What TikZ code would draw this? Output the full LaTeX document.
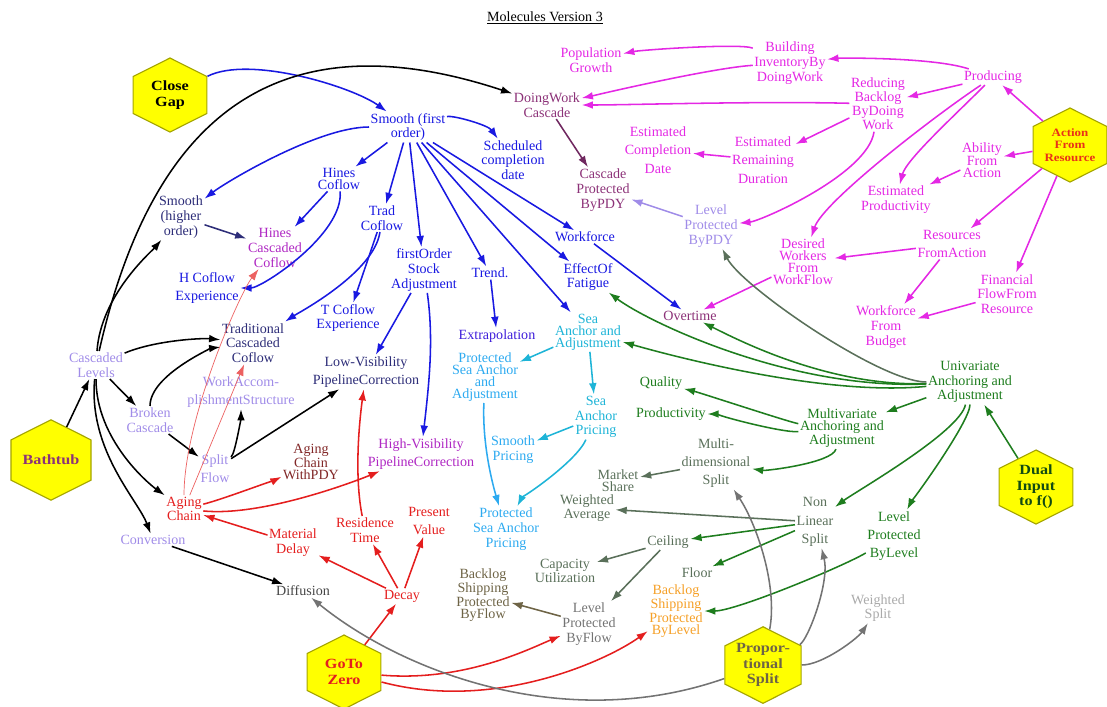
\documentclass[tikz,border=0pt]{standalone}
\usepackage{fontspec}
\setmainfont{Liberation Serif}
\usepackage{tikz}
\usetikzlibrary{shapes.geometric}
\usetikzlibrary{arrows.meta}
\tikzset{>={Latex[length=8pt,width=5.5pt]}}

\definecolor{cblue}{RGB}{25,25,225}
\definecolor{cnavy}{RGB}{45,45,120}
\definecolor{cmag}{RGB}{228,40,228}
\definecolor{cpurple}{RGB}{140,50,120}
\definecolor{clav}{RGB}{160,140,232}
\definecolor{chv}{RGB}{175,40,195}
\definecolor{cred}{RGB}{228,30,30}
\definecolor{cbrown}{RGB}{130,40,40}
\definecolor{ccyan}{RGB}{30,180,215}
\definecolor{clcyan}{RGB}{45,170,240}
\definecolor{cgreen}{RGB}{30,125,30}
\definecolor{cgg}{RGB}{90,112,90}
\definecolor{cgray}{RGB}{115,115,115}
\definecolor{cdgray}{RGB}{70,70,70}
\definecolor{clgray}{RGB}{170,170,170}
\definecolor{colive}{RGB}{110,100,70}
\definecolor{corange}{RGB}{245,160,40}
\definecolor{hexyellow}{RGB}{255,255,0}
\definecolor{hexborder}{RGB}{165,165,0}

\begin{document}
\begin{tikzpicture}[x=0.025cm,y=-0.025cm]
  \tikzstyle{lbl} = [align=center, inner sep=1pt, font=\fontsize{10}{10.5}\selectfont]
  \tikzstyle{tlbl} = [lbl, font=\fontsize{10}{8.5}\selectfont]
  \tikzstyle{wlbl} = [lbl, font=\fontsize{10}{13}\selectfont]
  \tikzstyle{hexa} = [regular polygon, regular polygon sides=6, shape border rotate=30, xscale=1.15,
                      minimum size=1.85cm, inner sep=0pt, fill=hexyellow, draw=hexborder, thick,
                      align=center, font=\bfseries\fontsize{10}{11}\selectfont]
  \tikzstyle{arr} = [->, line width=1.1pt]
  \tikzstyle{barr} = [arr, cblue]
  \tikzstyle{marr} = [arr, cmag]
  \tikzstyle{karr} = [arr, black]
  \tikzstyle{rarr} = [arr, cred]
  \tikzstyle{garr} = [arr, cgreen]
  \tikzstyle{ggarr} = [arr, cgg]
  \tikzstyle{carr} = [arr, ccyan]
  \tikzstyle{grayarr} = [arr, cgray]
  \useasboundingbox (0,0) rectangle (1107,706);

  \node[lbl] (title) at (545,18) {\underline{Molecules Version 3}};

  % hexagons
  \node[hexa, text=black] (cg) at (170,95) {Close\\Gap};
  \node[hexa, text=cpurple] (bath) at (51,460) {Bathtub};
  \node[hexa, text=cred!80!orange, font=\bfseries\fontsize{8}{9}\selectfont] (afr) at (1070,145) {Action\\From\\Resource};
  \node[hexa, text=cgreen!60!black] (dual) at (1036,487) {Dual\\Input\\to f()};
  \node[hexa, text=colive] (psplit) at (763,665) {Propor-\\tional\\Split};
  \node[hexa, text=cred] (gtz) at (344,672) {GoTo\\Zero};

  % smooth part
  \node[lbl, text=cblue] (sm1) at (408,127) {Smooth (first\\order)};
  \node[lbl, text=cblue] (sched) at (513,160) {Scheduled\\completion\\date};
  \node[lbl, text=cnavy] (smh) at (181,217) {Smooth\\(higher\\order)};
  \node[tlbl, text=cblue] (hines) at (339,179) {Hines\\Coflow};
  \node[lbl, text=chv] (hcc) at (275,248) {Hines\\Cascaded\\Coflow};
  \node[lbl, text=cblue] (trad) at (382,218) {Trad\\Coflow};
  \node[wlbl, text=cblue] (hcx) at (207,288) {H Coflow\\Experience};
  \node[lbl, text=cnavy] (tcc) at (253,343) {Traditional\\Cascaded\\Coflow};
  \node[lbl, text=cblue] (tcx) at (348,318) {T Coflow\\Experience};
  \node[wlbl, text=cnavy] (lvpc) at (366,372) {Low-Visibility\\PipelineCorrection};
  \node[lbl, text=cblue] (fosa) at (424,270) {firstOrder\\Stock\\Adjustment};
  \node[lbl, text=cblue] (trend) at (490,273) {Trend.};
  \node[lbl, text=cblue!75!chv] (extrap) at (497,336) {Extrapolation};
  \node[wlbl, text=chv] (hvpc) at (421,454) {High-Visibility\\PipelineCorrection};
  \node[lbl, text=cblue] (wf) at (585,237) {Workforce};
  \node[lbl, text=cblue] (fatigue) at (588,277) {EffectOf\\Fatigue};
  \node[lbl, text=cpurple] (overtime) at (690,316) {Overtime};

  % sea anchor
  \node[tlbl, text=ccyan] (seaaa) at (588,332) {Sea\\Anchor and\\Adjustment};
  \node[tlbl, text=clcyan] (psaa) at (485,377) {Protected\\Sea Anchor\\and\\Adjustment};
  \node[lbl, text=ccyan] (sap) at (596,417) {Sea\\Anchor\\Pricing};
  \node[lbl, text=clcyan] (smp) at (513,450) {Smooth\\Pricing};
  \node[lbl, text=clcyan] (psap) at (506,529) {Protected\\Sea Anchor\\Pricing};

  % doing work
  \node[lbl, text=cpurple] (dwc) at (547,105) {DoingWork\\Cascade};
  \node[lbl, text=cpurple] (cpp) at (603,190) {Cascade\\Protected\\ByPDY};
  \node[lbl, text=clav] (lpp) at (711,226) {Level\\Protected\\ByPDY};
  \node[lbl, text=cmag] (pop) at (591,60) {Population\\Growth};
  \node[wlbl, text=cmag] (ecd) at (658,150) {Estimated\\Completion\\Date};
  \node[lbl, text=cmag] (bidw) at (790,63) {Building\\InventoryBy\\DoingWork};
  \node[lbl, text=cmag] (prod) at (993,77) {Producing};
  \node[tlbl, text=cmag] (rbdw) at (878,104) {Reducing\\Backlog\\ByDoing\\Work};
  \node[wlbl, text=cmag] (erd) at (763,160) {Estimated\\Remaining\\Duration};
  \node[tlbl, text=cmag] (ability) at (982,160) {Ability\\From\\Action};
  \node[lbl, text=cmag] (estprod) at (896,200) {Estimated\\Productivity};
  \node[tlbl, text=cmag] (dwwf) at (803,262) {Desired\\Workers\\From\\WorkFlow};
  \node[wlbl, text=cmag] (resfa) at (952,244) {Resources\\FromAction};
  \node[lbl, text=cmag] (ffr) at (1007,294) {Financial\\FlowFrom\\Resource};
  \node[lbl, text=cmag] (wfb) at (886,327) {Workforce\\From\\Budget};

  % anchoring
  \node[lbl, text=cgreen] (univ) at (970,382) {Univariate\\Anchoring and\\Adjustment};
  \node[tlbl, text=cgreen] (multi) at (842,428) {Multivariate\\Anchoring and\\Adjustment};
  \node[lbl, text=cgreen] (quality) at (661,383) {Quality};
  \node[lbl, text=cgreen] (productivity) at (671,414) {Productivity};
  \node[wlbl, text=cgg] (mds) at (716,463) {Multi-\\dimensional\\Split};
  \node[tlbl, text=cgg] (mshare) at (618,481) {Market\\Share};
  \node[tlbl, text=cgg] (wavg) at (587,508) {Weighted\\Average};
  \node[wlbl, text=cgg] (nls) at (815,522) {Non\\Linear\\Split};
  \node[wlbl, text=cgreen] (lpl) at (894,536) {Level\\Protected\\ByLevel};
  \node[tlbl, text=clgray] (wsplit) at (878,608) {Weighted\\Split};
  \node[lbl, text=cgg] (ceiling) at (668,542) {Ceiling};
  \node[lbl, text=cgg] (floor) at (697,573) {Floor};
  \node[lbl, text=cgg] (caputil) at (565,571) {Capacity\\Utilization};
  \node[tlbl, text=colive] (bspf) at (483,595) {Backlog\\Shipping\\Protected\\ByFlow};
  \node[lbl, text=cgray] (lpf) at (589,624) {Level\\Protected\\ByFlow};
  \node[tlbl, text=corange] (bspl) at (676,611) {Backlog\\Shipping\\Protected\\ByLevel};

  % cascades and chains
  \node[lbl, text=clav] (cl) at (96,365) {Cascaded\\Levels};
  \node[lbl, text=clav] (bc) at (150,420) {Broken\\Cascade};
  \node[wlbl, text=clav] (was) at (241,392) {WorkAccom-\\plishmentStructure};
  \node[wlbl, text=clav] (sf) at (215,469) {Split\\Flow};
  \node[tlbl, text=cbrown] (acpdy) at (311,462) {Aging\\Chain\\WithPDY};
  \node[lbl, text=cred] (ac) at (184,509) {Aging\\Chain};
  \node[lbl, text=clav] (conv) at (153,540) {Conversion};
  \node[lbl, text=cred] (md) at (293,543) {Material\\Delay};
  \node[lbl, text=cred] (rt) at (365,530) {Residence\\Time};
  \node[wlbl, text=cred] (pv) at (429,521) {Present\\Value};
  \node[lbl, text=cred] (decay) at (402,596) {Decay};
  \node[lbl, text=cdgray] (diff) at (303,591) {Diffusion};

  % blue
  \draw[barr] (cg) .. controls +(80,-40) and +(-55,-40) .. (sm1);
  \draw[barr] (sm1) .. controls +(45,-12) and +(-25,-35) .. (sched);
  \draw[barr] (sm1) .. controls +(-90,0) and +(45,-35) .. (smh);
  \draw[barr] (sm1) -- (hines);
  \draw[barr] (sm1) -- (trad);
  \draw[barr] (sm1) -- (fosa);
  \draw[barr] (sm1) -- (trend);
  \draw[barr] (sm1) -- (seaaa);
  \draw[barr] (sm1) -- (fatigue);
  \draw[barr] (sm1) -- (wf);
  \draw[barr] (wf) -- (overtime);
  \draw[barr] (hines) -- (hcc);
  \draw[barr] (hines) .. controls +(5,55) and +(55,0) .. (hcx);
  \draw[barr] (trad) .. controls +(-8,55) and +(45,-30) .. (tcc);
  \draw[barr] (trad) -- (tcx);
  \draw[barr] (fosa) -- (lvpc);
  \draw[barr] (fosa) .. controls +(10,70) and +(8,-70) .. (hvpc);
  \draw[barr] (trend) -- (extrap);
  \draw[arr, cnavy] (smh) -- (hcc);

  % magenta
  \draw[marr] (bidw) .. controls +(-50,-20) and +(50,-10) .. (pop);
  \draw[marr] (bidw) .. controls +(-80,5) and +(40,-8) .. (dwc);
  \draw[marr] (rbdw) .. controls +(-120,-3) and +(80,0) .. (dwc);
  \draw[marr] (prod) .. controls +(-60,-20) and +(50,-5) .. (bidw);
  \draw[marr] (prod) -- (rbdw);
  \draw[marr] (rbdw) .. controls +(-10,70) and +(50,-5) .. (lpp);
  \draw[marr] (prod) .. controls +(-60,40) and +(20,-60) .. (dwwf);
  \draw[marr] (prod) .. controls +(-40,40) and +(10,-40) .. (estprod);
  \draw[marr] (rbdw) -- (erd);
  \draw[marr] (erd) -- (ecd);
  \draw[marr] (afr) -- (prod);
  \draw[marr] (afr) -- (ability);
  \draw[marr] (ability) -- (estprod);
  \draw[marr] (afr) -- (resfa);
  \draw[marr] (afr) -- (ffr);
  \draw[marr] (resfa) -- (dwwf);
  \draw[marr] (resfa) -- (wfb);
  \draw[marr] (ffr) -- (wfb);
  \draw[marr] (dwwf) -- (overtime);
  \draw[arr, cpurple!80!black] (dwc) -- (cpp);
  \draw[arr, clav] (lpp) -- (cpp);

  % black
  \draw[karr] (cl) .. controls +(54,-239) and +(-278,-92) .. (dwc);
  \draw[karr] (cl) .. controls +(5,-70) and +(-30,35) .. (smh);
  \draw[karr] (cl) .. controls +(60,-25) and +(-50,-5) .. (tcc);
  \draw[karr] (bc) .. controls +(0,-45) and +(-40,5) .. (tcc);
  \draw[karr] (cl) -- (bc);
  \draw[karr] (bath) -- (cl);
  \draw[karr] (bc) -- (sf);
  \draw[karr] (sf) .. controls +(20,-15) and +(0,25) .. (was);
  \draw[karr] (sf) -- (lvpc);
  \draw[karr] (cl) .. controls +(0,75) and +(-35,-25) .. (ac);
  \draw[karr] (cl) .. controls +(-8,85) and +(-15,-40) .. (conv);
  \draw[karr] (conv) -- (diff);

  % red
  \draw[rarr] (ac) .. controls +(40,-10) and +(-30,15) .. (acpdy);
  \draw[rarr] (ac) .. controls +(80,8) and +(-60,25) .. (hvpc);
  \draw[rarr] (md) -- (ac);
  \draw[rarr] (decay) -- (md);
  \draw[rarr] (decay) -- (rt);
  \draw[rarr] (decay) -- (pv);
  \draw[rarr] (rt) .. controls +(-10,-50) and +(-8,60) .. (lvpc);
  \draw[rarr] (gtz) -- (decay);
  \draw[rarr] (gtz) .. controls +(120,10) and +(-60,25) .. (lpf);
  \draw[rarr] (gtz) .. controls +(150,40) and +(-70,50) .. (bspl);
  \draw[->, cred!70, line width=0.5pt] (ac) .. controls +(0,-90) and +(-35,45) .. (hcc);
  \draw[->, cred!70, line width=0.5pt] (ac) -- (tcc);

  % green
  \draw[ggarr] (univ) .. controls +(-90,0) and +(30,60) .. (lpp);
  \draw[garr] (univ) .. controls +(-140,5) and +(50,25) .. (overtime);
  \draw[garr] (univ) .. controls +(-180,8) and +(60,45) .. (fatigue);
  \draw[garr] (univ) .. controls +(-150,15) and +(70,20) .. (seaaa);
  \draw[garr] (multi) .. controls +(-50,-5) and +(40,10) .. (quality);
  \draw[garr] (multi) .. controls +(-60,5) and +(40,0) .. (productivity);
  \draw[garr] (multi) .. controls +(-10,35) and +(50,8) .. (mds);
  \draw[garr] (univ) -- (multi);
  \draw[garr] (univ) .. controls +(-10,50) and +(40,-30) .. (nls);
  \draw[garr] (univ) .. controls +(0,40) and +(15,-30) .. (lpl);
  \draw[garr] (dual) -- (univ);
  \draw[ggarr] (nls) -- (wavg);
  \draw[garr] (nls) -- (ceiling);
  \draw[garr] (nls) -- (floor);
  \draw[garr] (lpl) .. controls +(-50,30) and +(60,0) .. (bspl);
  \draw[ggarr] (mds) -- (mshare);
  \draw[ggarr] (ceiling) -- (caputil);
  \draw[ggarr] (ceiling) -- (lpf);
  \draw[arr, colive] (lpf) -- (bspf);
  \draw[grayarr] (psplit) .. controls +(15,-80) and +(40,60) .. (mds);
  \draw[grayarr] (psplit) .. controls +(45,-25) and +(15,60) .. (nls);
  \draw[grayarr] (psplit) .. controls +(60,0) and +(-20,30) .. (wsplit);
  \draw[grayarr] (psplit) .. controls +(-200,70) and +(97,79) .. (diff);

  % cyan
  \draw[carr] (seaaa) -- (psaa);
  \draw[carr] (seaaa) -- (sap);
  \draw[carr] (sap) -- (smp);
  \draw[arr, clcyan] (psaa) .. controls +(-3,70) and +(-12,-40) .. (psap);
  \draw[carr] (sap) .. controls +(-20,45) and +(15,-30) .. (psap);
\end{tikzpicture}
\end{document}
